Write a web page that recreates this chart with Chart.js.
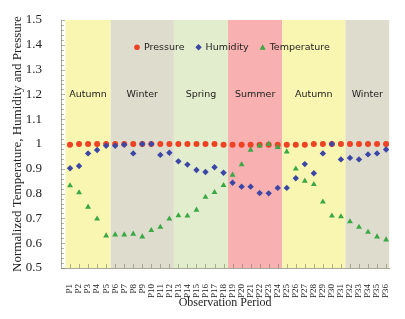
<!DOCTYPE html>
<html>
<head>
<meta charset="utf-8">
<script src="https://cdn.jsdelivr.net/npm/chart.js@4.4.1/dist/chart.umd.min.js"></script>
<style>
  html, body { margin: 0; padding: 0; background: #fff; }
  #wrap { width: 405px; height: 319px; }
</style>
</head>
<body>
<div id="wrap"><canvas id="chart"></canvas></div>
<script>
const periods = ['P1', 'P2', 'P3', 'P4', 'P5', 'P6', 'P7', 'P8', 'P9', 'P10', 'P11', 'P12',
  'P13', 'P14', 'P15', 'P16', 'P17', 'P18', 'P19', 'P20', 'P21', 'P22', 'P23', 'P24',
  'P25', 'P26', 'P27', 'P28', 'P29', 'P30', 'P31', 'P32', 'P33', 'P34', 'P35', 'P36']
const pressure = [0.997, 1.0, 1.0, 1.0, 1.0, 1.0, 1.0, 1.0, 1.0, 1.0, 1.0, 1.0,
  1.0, 1.0, 1.0, 1.0, 1.0, 0.997, 0.997, 0.997, 0.997, 0.997, 0.997, 0.997,
  0.997, 0.997, 0.997, 1.0, 1.0, 1.0, 1.0, 1.0, 1.0, 1.0, 1.0, 1.0]
const humidity = [0.902, 0.911, 0.962, 0.976, 0.993, 0.993, 0.997, 0.962, 1.0, 1.0, 0.956, 0.965,
  0.930, 0.917, 0.895, 0.887, 0.906, 0.884, 0.844, 0.828, 0.828, 0.802, 0.801, 0.823,
  0.823, 0.862, 0.919, 0.882, 0.962, 1.0, 0.938, 0.944, 0.938, 0.958, 0.962, 0.978]
const temperature = [0.832, 0.804, 0.746, 0.698, 0.630, 0.634, 0.634, 0.637, 0.626, 0.652, 0.665, 0.698,
  0.711, 0.710, 0.734, 0.786, 0.805, 0.833, 0.875, 0.917, 0.976, 0.993, 1.0, 0.987,
  0.969, 0.900, 0.851, 0.837, 0.767, 0.710, 0.707, 0.687, 0.665, 0.645, 0.626, 0.614]

// seasons as ranges of periods (1-based)
const seasonNames = ['Autumn', 'Winter', 'Spring', 'Summer', 'Autumn', 'Winter']
const seasonFirst = [1, 6, 13, 19, 25, 32]
const seasonLast = [5, 12, 18, 24, 31, 36]

const bandColors = {
  Autumn: '#f9f6b1',
  Winter: '#dedccd',
  Spring: '#e1edcc',
  Summer: '#f8b0b0'
}

const toPoints = (vals) => vals.map((v, i) => ({ x: i + 1, y: v }))

const seasonPlugin = {
  id: 'seasons',
  beforeDraw (chart) {
    const { ctx, chartArea: area, scales: { x } } = chart
    ctx.save()
    seasonNames.forEach((name, i) => {
      const x0 = Math.max(area.left, x.getPixelForValue(seasonFirst[i] - 0.5))
      const x1 = Math.min(area.right, x.getPixelForValue(seasonLast[i] + 0.5))
      ctx.fillStyle = bandColors[name]
      ctx.fillRect(x0, area.top, x1 - x0, area.bottom - area.top)
    })
    ctx.restore()
  },
  beforeDatasetsDraw (chart) {
    const { ctx, chartArea: area, scales: { x, y } } = chart
    ctx.save()
    // inner tick marks
    ctx.strokeStyle = 'rgba(120,120,90,0.55)'
    ctx.lineWidth = 1
    ctx.beginPath()
    for (let v = 50; v <= 150; v += 2) {
      const py = Math.round(y.getPixelForValue(v / 100)) + 0.5
      const len = v % 10 === 0 ? 4 : 3
      ctx.moveTo(area.left, py)
      ctx.lineTo(area.left + len, py)
    }
    periods.forEach((p, i) => {
      const px = Math.round(x.getPixelForValue(i + 1)) + 0.5
      ctx.moveTo(px, area.bottom)
      ctx.lineTo(px, area.bottom - 4)
    })
    ctx.stroke()

    // season names
    ctx.fillStyle = '#222'
    ctx.font = '9.5px "DejaVu Sans"'
    ctx.textAlign = 'center'
    ctx.textBaseline = 'middle'
    seasonNames.forEach((name, i) => {
      const x0 = Math.max(area.left, x.getPixelForValue(seasonFirst[i] - 0.5))
      const x1 = Math.min(area.right, x.getPixelForValue(seasonLast[i] + 0.5))
      ctx.fillText(name, (x0 + x1) / 2, y.getPixelForValue(1.2))
    })

    // legend inside the plot
    ctx.font = '9.5px "DejaVu Sans"'
    const ly = y.getPixelForValue(1.39)
    let lx = area.left + 76
    ctx.textAlign = 'left'
    chart.data.datasets.forEach((ds) => {
      ctx.fillStyle = ds.backgroundColor
      ctx.beginPath()
      if (ds.pointStyle === 'circle') {
        ctx.arc(lx, ly, 2.8, 0, Math.PI * 2)
      } else if (ds.pointStyle === 'rectRot') {
        ctx.moveTo(lx, ly - 3.2); ctx.lineTo(lx + 3.2, ly); ctx.lineTo(lx, ly + 3.2); ctx.lineTo(lx - 3.2, ly)
      } else {
        ctx.moveTo(lx, ly - 3); ctx.lineTo(lx + 3, ly + 2.5); ctx.lineTo(lx - 3, ly + 2.5)
      }
      ctx.closePath()
      ctx.fill()
      ctx.fillStyle = '#1e1e1e'
      ctx.fillText(ds.label, lx + 7, ly)
      lx += 7 + ctx.measureText(ds.label).width + 14
    })
    ctx.restore()
  }
}

const chart = new Chart(
  document.getElementById('chart').getContext('2d'),
  {
    type: 'scatter',
    data: {
      datasets: [
        {
          label: 'Pressure',
          data: toPoints(pressure),
          pointStyle: 'circle',
          pointRadius: 3,
          backgroundColor: '#ee4224',
          borderColor: '#ee4224',
          borderWidth: 0,
          order: 3
        },
        {
          label: 'Humidity',
          data: toPoints(humidity),
          pointStyle: 'rectRot',
          pointRadius: 3.2,
          backgroundColor: '#3b46a6',
          borderColor: '#3b46a6',
          borderWidth: 0,
          order: 2
        },
        {
          label: 'Temperature',
          data: toPoints(temperature),
          pointStyle: 'triangle',
          pointRadius: 3.4,
          backgroundColor: '#3aa845',
          borderColor: '#3aa845',
          borderWidth: 0,
          order: 1
        }
      ]
    },
    options: {
      responsive: true,
      maintainAspectRatio: false,
      animation: false,
      layout: { padding: { top: 20, right: 12, left: 0, bottom: 0 } },
      scales: {
        x: {
          type: 'linear',
          min: 0,
          max: 36.35,
          afterFit: (scale) => { scale.height = 51 },
          afterBuildTicks: (scale) => {
            scale.ticks = periods.map((p, i) => ({ value: i + 1 }))
          },
          grid: { display: false },
          border: { display: true, color: '#a9a99c' },
          ticks: {
            autoSkip: false,
            maxRotation: 90,
            minRotation: 90,
            padding: 8,
            color: '#222',
            font: { family: '"Liberation Serif"', size: 9 },
            callback: (v) => periods[v - 1] || ''
          },
          title: {
            display: true,
            text: 'Observation Period',
            color: '#222',
            font: { family: '"Liberation Serif"', size: 12 },
            padding: { top: 0, bottom: 9 }
          }
        },
        y: {
          min: 0.5,
          max: 1.5,
          afterFit: (scale) => { scale.width = 61 },
          grid: { display: false },
          border: { display: true, color: '#a9a99c' },
          ticks: {
            stepSize: 0.1,
            padding: 11,
            color: '#222',
            font: { family: '"Liberation Serif"', size: 13 },
            callback: (v) => String(Math.round(v * 10) / 10)
          },
          title: {
            display: true,
            text: 'Normalized Temperature, Humidity and Pressure',
            color: '#222',
            font: { family: '"Liberation Serif"', size: 13 },
            padding: { top: 10, bottom: 0 }
          }
        }
      },
      plugins: {
        legend: { display: false },
        tooltip: { enabled: false }
      }
    },
    plugins: [seasonPlugin]
  }
)
</script>
</body>
</html>
